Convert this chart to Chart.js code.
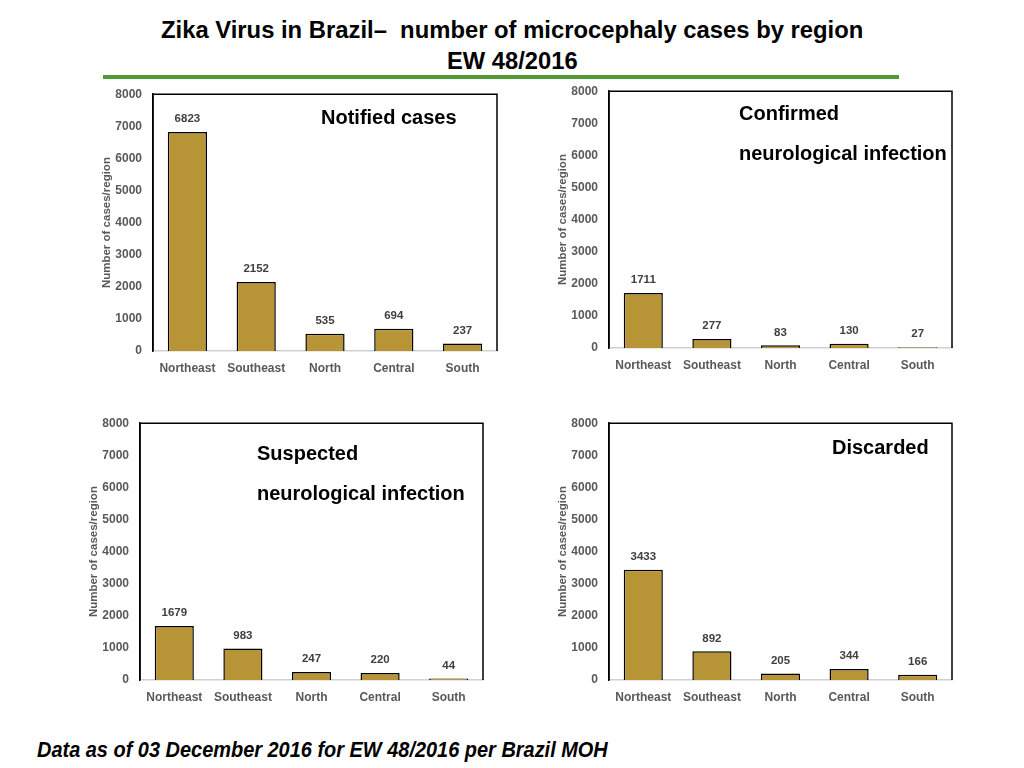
<!DOCTYPE html>
<html>
<head>
<meta charset="utf-8">
<script src="https://cdn.jsdelivr.net/npm/chart.js@4.4.1/dist/chart.umd.min.js"></script>
<style>
  html, body { margin: 0; padding: 0; background: #fff; }
  body { width: 1024px; height: 768px; position: relative; overflow: hidden; font-family: "Liberation Sans", Arial, sans-serif; }
  .title { position: absolute; left: 0; width: 1024px; text-align: center; font-weight: bold; font-size: 23px; color: #000; line-height: 30px; }
  .fit { display: inline-block; white-space: nowrap; }
  .rule { position: absolute; left: 103px; top: 75px; width: 796px; height: 4px; background: #4f9a34; }
  .box { position: absolute; }
  .label { position: absolute; font-weight: bold; font-size: 20px; color: #000; white-space: nowrap; line-height: 20px; }
  .footer { position: absolute; left: 37px; top: 735px; font-weight: bold; font-style: italic; font-size: 22px; line-height: 30px; color: #000; }
</style>
</head>
<body>
<div class="title" style="top:15px"><span class="fit" data-w="702">Zika Virus in Brazil&#8211;&nbsp; number of microcephaly cases by region</span></div>
<div class="title" style="top:46px"><span class="fit" data-w="131">EW 48/2016</span></div>
<div class="rule"></div>

<div class="box" id="box1"><canvas id="chart1"></canvas></div>
<div class="box" id="box2"><canvas id="chart2"></canvas></div>
<div class="box" id="box3"><canvas id="chart3"></canvas></div>
<div class="box" id="box4"><canvas id="chart4"></canvas></div>

<div class="label" style="left:321px; top:107px">Notified cases</div>
<div class="label" style="left:739px; top:103px">Confirmed</div>
<div class="label" style="left:739px; top:143px">neurological infection</div>
<div class="label" style="left:257px; top:443px">Suspected</div>
<div class="label" style="left:257px; top:483px">neurological infection</div>
<div class="label" style="left:832px; top:437px">Discarded</div>

<div class="footer"><span class="fit" data-w="571" style="transform-origin: left center">Data as of 03 December 2016 for EW 48/2016 per Brazil MOH</span></div>

<script>
// Data
const regions = ['Northeast', 'Southeast', 'North', 'Central', 'South'];
const notified = [6823, 2152, 535, 694, 237];
const confirmed = [1711, 277, 83, 130, 27];
const suspected = [1679, 983, 247, 220, 44];
const discarded = [3433, 892, 205, 344, 166];
const yTicks = [0, 1000, 2000, 3000, 4000, 5000, 6000, 7000, 8000];

const barColor = '#b79435';
const tickColor = '#595959';
const Y_WIDTH = 60;
const X_HEIGHT = 30;

// squeeze header/footer text to a narrow look
document.querySelectorAll('.fit').forEach(el => {
    const target = parseFloat(el.dataset.w);
    el.style.transform = 'scaleX(' + (target / el.offsetWidth) + ')';
});

// frame around the plot area + value labels above bars
const framePlugin = {
    id: 'frame',
    afterDatasetsDraw(chart) {
        const { ctx, chartArea: a } = chart;
        ctx.save();
        ctx.strokeStyle = '#000';
        ctx.lineWidth = 1.5;
        ctx.beginPath();
        ctx.moveTo(a.left, a.bottom);
        ctx.lineTo(a.left, a.top);
        ctx.lineTo(a.right, a.top);
        ctx.lineTo(a.right, a.bottom);
        ctx.stroke();

        ctx.fillStyle = '#404040';
        ctx.font = 'bold 11.5px "Liberation Sans", Arial, sans-serif';
        ctx.textAlign = 'center';
        ctx.textBaseline = 'middle';
        const meta = chart.getDatasetMeta(0);
        meta.data.forEach((bar, i) => {
            ctx.fillText(chart.data.datasets[0].data[i], bar.x, bar.y - 13);
        });
        ctx.restore();
    }
};

// plot box (left, top, right, bottom) in page pixels
function makeChart(n, values, plot) {
    const padTop = 9, padRight = 4;
    const box = document.getElementById('box' + n);
    const left = plot[0] - Y_WIDTH;
    const top = plot[1] - 17;
    const w = plot[2] - left + padRight;
    const h = plot[3] - top + X_HEIGHT;
    box.style.left = left + 'px';
    box.style.top = top + 'px';
    box.style.width = w + 'px';
    box.style.height = h + 'px';

    new Chart(document.getElementById('chart' + n), {
        type: 'bar',
        data: {
            labels: regions,
            datasets: [{
                data: values,
                backgroundColor: barColor,
                borderColor: '#000',
                borderWidth: 1.5,
                borderSkipped: 'bottom',
                categoryPercentage: 1.0,
                barPercentage: 0.57
            }]
        },
        options: {
            responsive: true,
            maintainAspectRatio: false,
            animation: false,
            layout: { padding: { top: padTop, right: padRight, left: 0, bottom: 0 } },
            plugins: { legend: { display: false }, tooltip: { enabled: false } },
            scales: {
                x: {
                    grid: { display: false, drawTicks: false },
                    border: { color: '#d0d0d0', width: 1.5 },
                    ticks: {
                        color: tickColor,
                        font: { family: '"Liberation Sans", Arial, sans-serif', size: 12, weight: 'bold' },
                        padding: 10,
                        maxRotation: 0,
                        autoSkip: false
                    },
                    afterFit(scale) { scale.height = X_HEIGHT; }
                },
                y: {
                    min: 0,
                    max: 8000,
                    afterBuildTicks(scale) { scale.ticks = yTicks.map(v => ({ value: v })); },
                    grid: { display: false, drawTicks: false },
                    border: { color: '#000', width: 1.5 },
                    ticks: {
                        color: tickColor,
                        font: { family: '"Liberation Sans", Arial, sans-serif', size: 12, weight: 'bold' },
                        padding: 11,
                        callback: v => String(v)
                    },
                    title: {
                        display: true,
                        text: 'Number of cases/region',
                        color: tickColor,
                        font: { family: '"Liberation Sans", Arial, sans-serif', size: 11.5, weight: 'bold' },
                        padding: { top: 7, bottom: 0 }
                    },
                    afterFit(scale) { scale.width = Y_WIDTH; }
                }
            }
        },
        plugins: [framePlugin]
    });
}

makeChart(1, notified, [153, 93, 497, 351]);
makeChart(2, confirmed, [609, 90, 952, 348]);
makeChart(3, suspected, [140, 422, 483, 680]);
makeChart(4, discarded, [609, 422, 952, 680]);
</script>
</body>
</html>
